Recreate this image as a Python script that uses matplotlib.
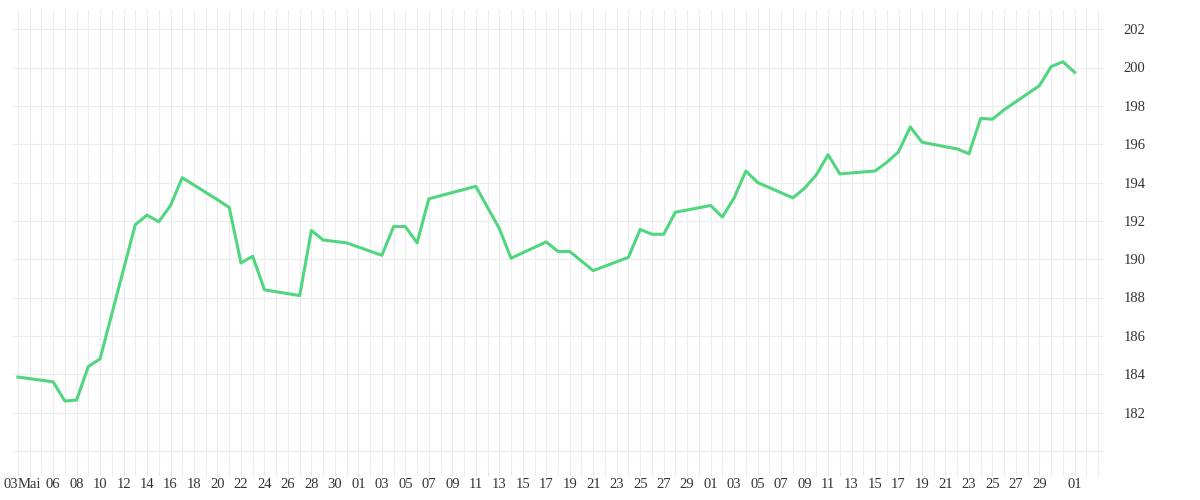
import matplotlib
matplotlib.use("Agg")
import matplotlib.pyplot as plt
import pandas as pd
import numpy as np

dates = ["2019-05-03","2019-05-06","2019-05-07","2019-05-08","2019-05-09","2019-05-10","2019-05-13","2019-05-14","2019-05-15","2019-05-16","2019-05-17","2019-05-20","2019-05-21","2019-05-22","2019-05-23","2019-05-24","2019-05-27","2019-05-28","2019-05-29","2019-05-31",
"2019-06-03","2019-06-04","2019-06-05","2019-06-06","2019-06-07","2019-06-11","2019-06-12","2019-06-13","2019-06-14","2019-06-17","2019-06-18","2019-06-19","2019-06-21","2019-06-24","2019-06-25","2019-06-26","2019-06-27","2019-06-28",
"2019-07-01","2019-07-02","2019-07-03","2019-07-04","2019-07-05","2019-07-08","2019-07-09","2019-07-10","2019-07-11","2019-07-12","2019-07-15","2019-07-16","2019-07-17","2019-07-18","2019-07-19","2019-07-22","2019-07-23","2019-07-24","2019-07-25","2019-07-26","2019-07-29","2019-07-30","2019-07-31","2019-08-01"]
values = [183.85,183.6,182.6,182.65,184.4,184.8,191.8,192.3,191.95,192.8,194.25,193.1,192.7,189.8,190.15,188.4,188.1,191.5,191.0,190.85,
190.2,191.7,191.7,190.85,193.15,193.8,192.7,191.6,190.05,190.9,190.4,190.4,189.4,190.1,191.55,191.3,191.3,192.45,
192.8,192.2,193.2,194.6,194.0,193.2,193.7,194.4,195.45,194.45,194.6,195.05,195.6,196.9,196.1,195.75,195.5,197.35,197.3,197.8,199.05,200.05,200.3,199.75]
y_ticks = [182,184,186,188,190,192,194,196,198,200,202]

x = pd.to_datetime(dates)
fig = plt.figure(figsize=(12,5), dpi=100)
ax = fig.add_axes([0.01, 0.06, 0.91, 0.92])
ax.plot(x, values, color="#4fd67f", lw=2.2)

start = pd.Timestamp("2019-05-02 12:00"); end = pd.Timestamp("2019-08-03 12:00")
ax.set_xlim(start, end)
ax.set_ylim(179.0, 203.0)
days = pd.date_range("2019-05-03","2019-08-03")
ax.set_xticks(days, minor=True)
labels_pos, labels = [], []
for d in days:
    if d == pd.Timestamp("2019-05-03"):
        labels_pos.append(d); labels.append("03")
    elif d == pd.Timestamp("2019-05-04"):
        labels_pos.append(d); labels.append("Mai")
    elif d.month == 5 and d.day % 2 == 0:
        labels_pos.append(d); labels.append(f"{d.day:02d}")
    elif d.month in (6,7) and d.day % 2 == 1 and d.day != 31:
        labels_pos.append(d); labels.append(f"{d.day:02d}")
    elif d.month == 8 and d.day == 1:
        labels_pos.append(d); labels.append("01")
ax.set_xticks(labels_pos)
ax.set_xticklabels(labels)
ax.set_yticks(y_ticks)
ax.set_yticks(np.arange(180, 203, 2), minor=True)
ax.yaxis.tick_right()
ax.grid(True, which="both", color="#ececec", lw=0.8)
ax.set_axisbelow(True)
for s in ax.spines.values():
    s.set_visible(False)
ax.tick_params(axis="x", which="both", length=4, color="#e6e6e6", labelsize=10.5, labelcolor="#333333", pad=2)
ax.tick_params(axis="y", which="both", length=0, pad=14, labelsize=10.5, labelcolor="#333333")
for t in ax.get_xticklabels()+ax.get_yticklabels():
    t.set_fontfamily("Liberation Serif")
xl = ax.get_xticklabels()
xl[0].set_horizontalalignment("right"); xl[0].set_x(0)
fig.savefig("out.png", dpi=100)
